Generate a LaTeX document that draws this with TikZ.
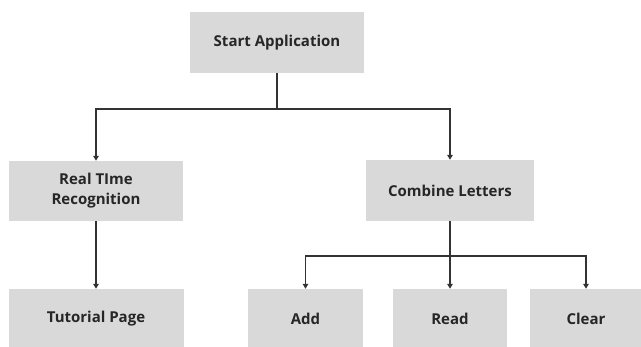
\documentclass[tikz,border=0pt]{standalone}
\usepackage{fontspec}
\setmainfont{Open Sans}
\usetikzlibrary{arrows.meta}
\definecolor{boxgray}{HTML}{D9D9D9}
\definecolor{linegray}{HTML}{333333}
\definecolor{txt}{HTML}{262626}
\begin{document}
\begin{tikzpicture}[x=1pt,y=-1pt,
  box/.style={fill=boxgray,draw=none,inner sep=0pt,align=center,
    font=\fontsize{15}{20}\selectfont\bfseries,text=txt},
  conn/.style={draw=linegray,line width=1.3pt},
  arr/.style={conn,-{Triangle[length=5pt,width=5.5pt]}}]
\useasboundingbox (0,0) rectangle (641,347);
\begin{scope}
\clip (0,0) rectangle (641,347);
\node[box,minimum width=174pt,minimum height=61pt] (start) at (277,42.5) {Start Application};
\node[box,minimum width=174pt,minimum height=60pt] (real) at (96,191) {Real TIme\\Recognition};
\node[box,minimum width=168pt,minimum height=61pt] (comb) at (450,190.5) {Combine Letters};
\node[box,minimum width=175pt,minimum height=60pt] (tut) at (96,319) {Tutorial Page};
\node[box,minimum width=115pt,minimum height=60pt] (add) at (305.5,319) {Add};
\node[box,minimum width=114pt,minimum height=60pt] (read) at (450,319) {Read};
\node[box,minimum width=112pt,minimum height=60pt] (clear) at (586,319) {Clear};
\end{scope}
\coordinate (j1) at (277,109);
\coordinate (j2) at (450,256);
\draw[conn] (start.south) -- (j1);
\draw[arr] (j1) -| (real.north);
\draw[arr] (j1) -| (comb.north);
\draw[arr] (real.south) -- (tut.north);
\draw[conn] (comb.south) -- (j2);
\draw[arr] (j2) -| (add.north);
\draw[arr] (j2) -- (read.north);
\draw[arr] (j2) -| (clear.north);
\end{tikzpicture}
\end{document}
